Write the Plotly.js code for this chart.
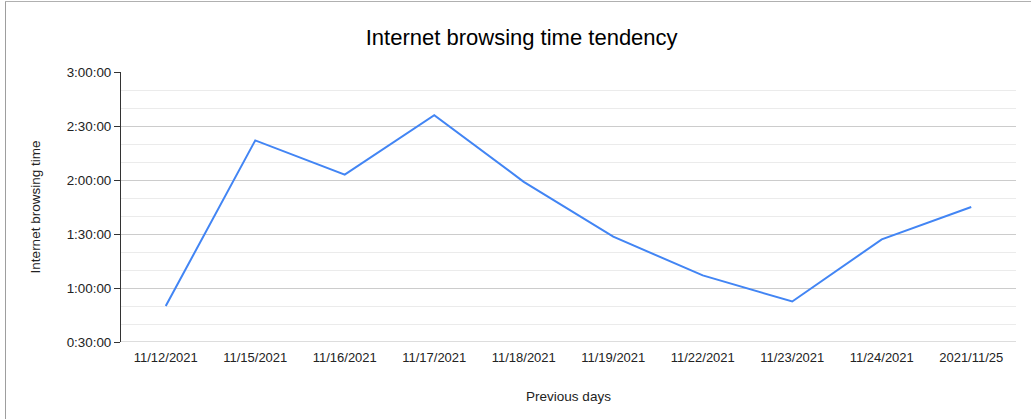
<!DOCTYPE html>
<html>
<head>
<meta charset="utf-8">
<script src="https://cdn.plot.ly/plotly-3.0.1.min.js"></script>
<style>
html,body{margin:0;padding:0;background:#fff;}
#wrap{position:relative;width:1031px;height:419px;}
#chart{width:1031px;height:419px;}
#bl{position:absolute;left:5px;top:1px;width:1px;height:418px;background:#9e9e9e;}
#bt{position:absolute;left:5px;top:1px;width:1026px;height:1px;background:#b0b0b0;}
</style>
</head>
<body>
<div id="wrap">
<div id="chart"></div>
<div id="bl"></div>
<div id="bt"></div>
</div>
<script>
const categories = ["11/12/2021","11/15/2021","11/16/2021","11/17/2021","11/18/2021","11/19/2021","11/22/2021","11/23/2021","11/24/2021","2021/11/25"];
// browsing time in minutes
const browsingMinutes = [50, 142, 123, 156, 119, 88.5, 67, 52.5, 87, 105];
const yTickVals = [30, 60, 90, 120, 150, 180];
const yTickText = ["0:30:00","1:00:00","1:30:00","2:00:00","2:30:00","3:00:00"];

const trace = {
  x: categories,
  y: browsingMinutes,
  type: "scatter",
  mode: "lines",
  line: {color: "#4285f4", width: 2},
  hoverinfo: "none"
};

const layout = {
  width: 1031, height: 419,
  margin: {l: 121, r: 15, t: 72, b: 77},
  paper_bgcolor: "#fff", plot_bgcolor: "#fff",
  font: {family: "Liberation Sans, Arial, sans-serif", color: "#222", size: 13},
  title: {text: "Internet browsing time tendency", x: 0.506, xanchor: "center", y: 0.91, yanchor: "middle",
          font: {size: 22, color: "#000"}},
  showlegend: false,
  xaxis: {
    type: "category",
    range: [-0.5, 9.5],
    showgrid: false,
    showline: false,
    zeroline: false,
    ticks: "outside",
    ticklen: 3,
    tickcolor: "rgba(0,0,0,0)",
    tickfont: {size: 13, color: "#222"},
    title: {text: "Previous days", font: {size: 13.5, color: "#222"}, standoff: 27}
  },
  yaxis: {
    range: [30, 180],
    tickvals: yTickVals,
    ticktext: yTickText,
    showgrid: true,
    gridcolor: "#cccccc",
    gridwidth: 1,
    zeroline: false,
    showline: true,
    linecolor: "#333",
    linewidth: 1,
    ticks: "outside",
    ticklen: 6,
    tickcolor: "#333",
    tickfont: {size: 13.4, color: "#222"},
    minor: {dtick: 10, tick0: 30, showgrid: true, gridcolor: "#ebebeb", gridwidth: 1, ticks: ""},
    title: {text: "Internet browsing time", font: {size: 13.5, color: "#222"}, standoff: 22}
  },
  shapes: [{
    type: "line", xref: "paper", yref: "y", x0: 0, x1: 1, y0: 30, y1: 30,
    line: {color: "#bbbbbb", width: 1}
  }]
};

Plotly.newPlot("chart", [trace], layout, {displayModeBar: false, staticPlot: true});
</script>
</body>
</html>
